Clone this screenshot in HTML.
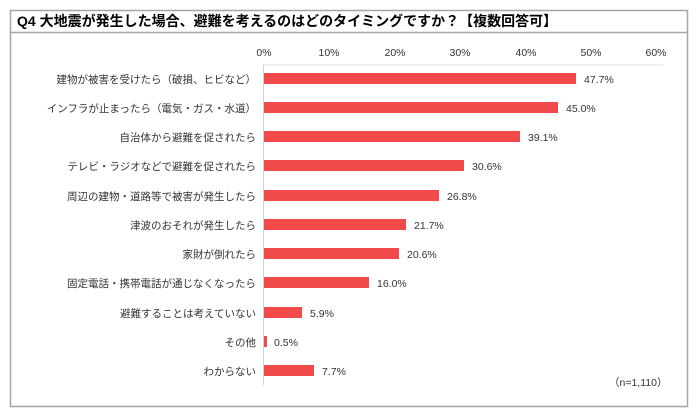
<!DOCTYPE html>
<html><head><meta charset="utf-8"><style>
body{margin:0;background:#fff;}
svg{display:block;font-family:"Liberation Sans","Noto Sans CJK JP",sans-serif;}
</style></head><body>
<svg width="700" height="415" viewBox="0 0 700 415">
<rect x="10.5" y="10.5" width="677" height="396" fill="#fff" stroke="#a6a6a6" stroke-width="1.5"/>
<line x1="10" y1="32.5" x2="688" y2="32.5" stroke="#a6a6a6" stroke-width="1.5"/>
<text x="17" y="26" font-size="14" font-weight="bold" fill="#000">Q4 大地震が発生した場合、避難を考えるのはどのタイミングですか？【複数回答可】</text>
<g font-size="10.5" fill="#333" text-anchor="middle">
<text x="264" y="56">0%</text><text x="329" y="56">10%</text><text x="395" y="56">20%</text><text x="460" y="56">30%</text><text x="526" y="56">40%</text><text x="591" y="56">50%</text><text x="656" y="56">60%</text>
</g>
<line x1="263" y1="65" x2="663" y2="65" stroke="#e0e0e0"/>
<line x1="263.5" y1="65" x2="263.5" y2="385" stroke="#d0d0d0"/>
<g fill="#f24a4a">
<rect x="264" y="73" width="312" height="11"/>
<rect x="264" y="102" width="294" height="11"/>
<rect x="264" y="131" width="256" height="11"/>
<rect x="264" y="160" width="200" height="11"/>
<rect x="264" y="190" width="175" height="11"/>
<rect x="264" y="219" width="142" height="11"/>
<rect x="264" y="248" width="135" height="11"/>
<rect x="264" y="277" width="105" height="11"/>
<rect x="264" y="307" width="38" height="11"/>
<rect x="264" y="336" width="3" height="11"/>
<rect x="264" y="365" width="50" height="11"/>
</g>
<g font-size="10.5" fill="#333" text-anchor="end">
<text x="256" y="83">建物が被害を受けたら（破損、ヒビなど）</text>
<text x="256" y="112">インフラが止まったら（電気・ガス・水道）</text>
<text x="256" y="141">自治体から避難を促されたら</text>
<text x="256" y="170">テレビ・ラジオなどで避難を促されたら</text>
<text x="256" y="200">周辺の建物・道路等で被害が発生したら</text>
<text x="256" y="229">津波のおそれが発生したら</text>
<text x="256" y="258">家財が倒れたら</text>
<text x="256" y="287">固定電話・携帯電話が通じなくなったら</text>
<text x="256" y="317">避難することは考えていない</text>
<text x="256" y="346">その他</text>
<text x="256" y="375">わからない</text>
</g>
<g font-size="10.5" fill="#333">
<text x="584" y="83">47.7%</text>
<text x="566" y="112">45.0%</text>
<text x="528" y="141">39.1%</text>
<text x="472" y="170">30.6%</text>
<text x="447" y="200">26.8%</text>
<text x="414" y="229">21.7%</text>
<text x="407" y="258">20.6%</text>
<text x="377" y="287">16.0%</text>
<text x="310" y="317">5.9%</text>
<text x="274" y="346">0.5%</text>
<text x="322" y="375">7.7%</text>
<text x="609" y="386">（n=1,110）</text>
</g>
</svg>
</body></html>
